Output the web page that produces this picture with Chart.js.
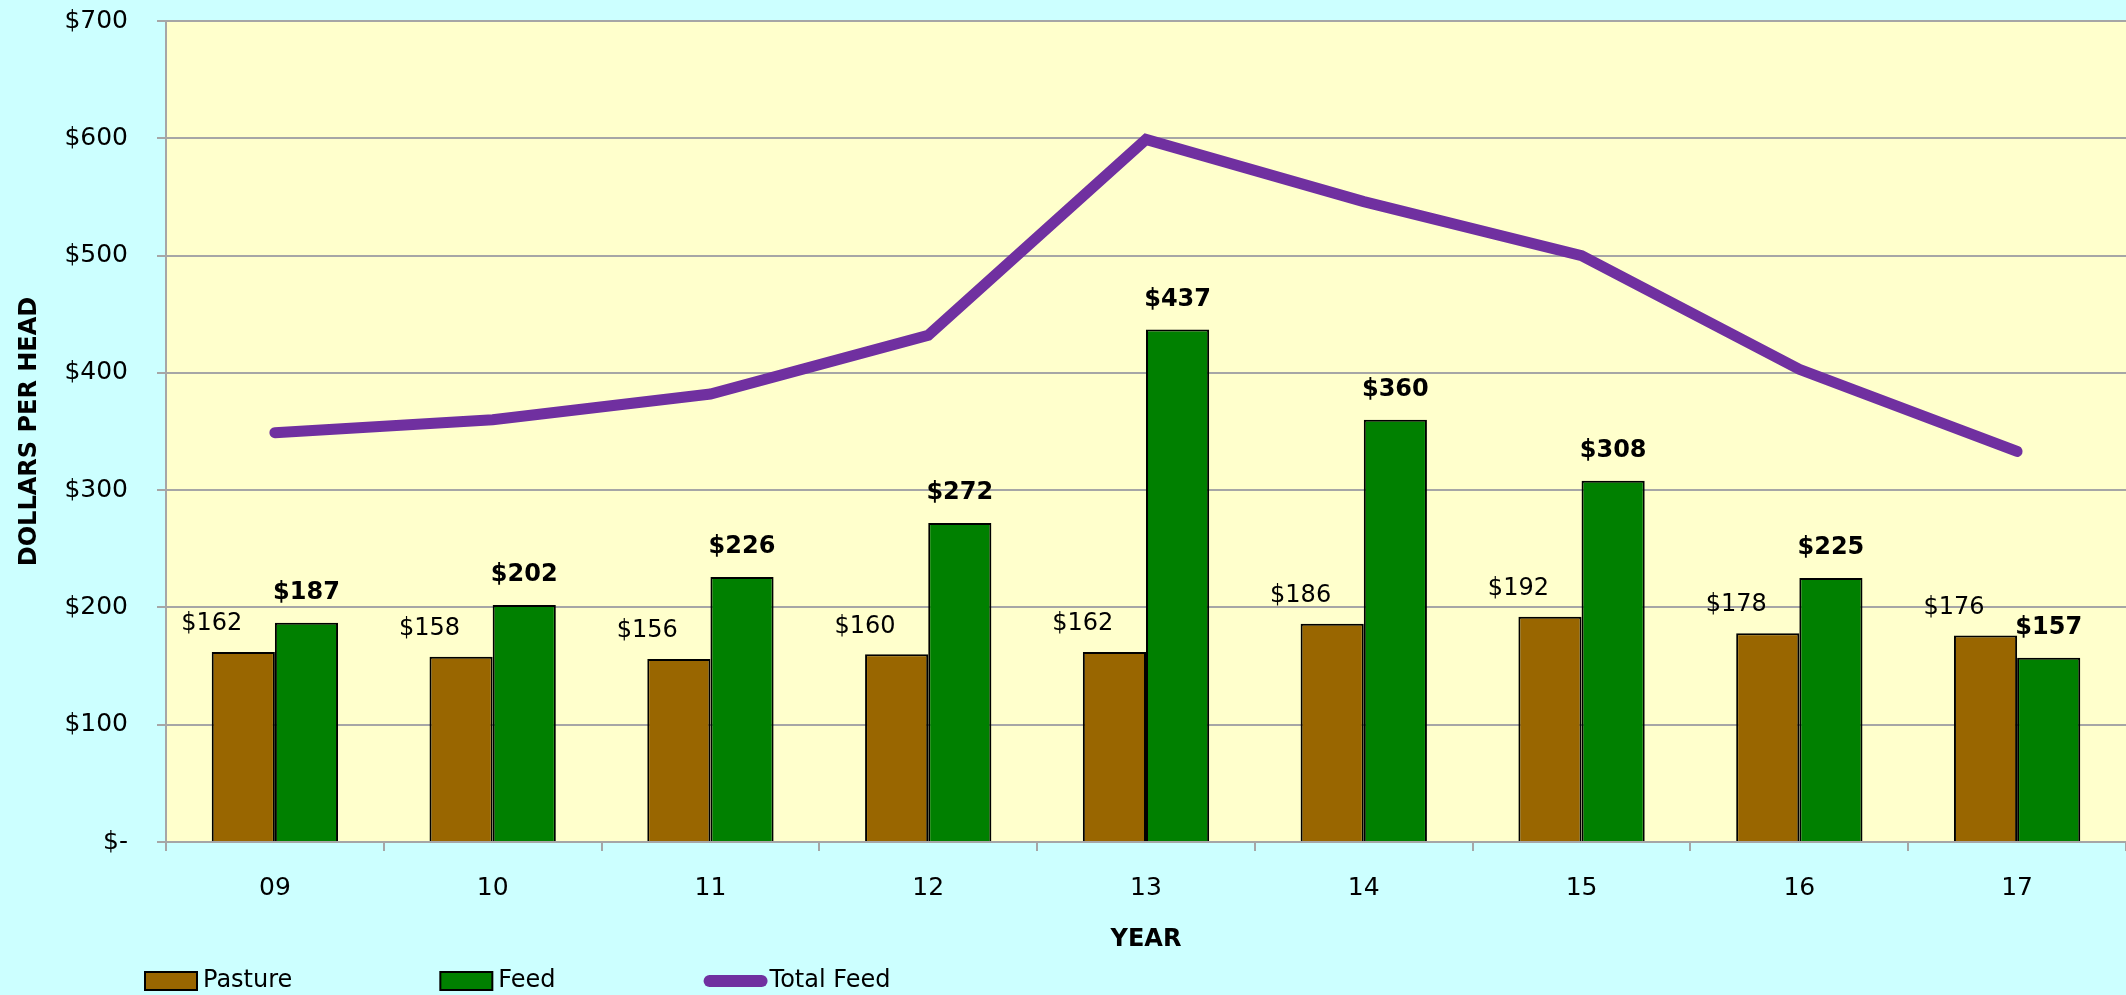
<!DOCTYPE html>
<html>
<head>
<meta charset="utf-8">
<title>Pasture and Feed Cost per Head</title>
<script src="https://cdn.jsdelivr.net/npm/chart.js@4.4.1/dist/chart.umd.min.js"></script>
<style>
  html, body { margin: 0; padding: 0; background: #ccffff; }
  #wrap { width: 2126px; height: 995px; position: relative; }
</style>
</head>
<body>
<div id="wrap"><canvas id="cost-chart"></canvas></div>
<script>
// values
const years = ['09', '10', '11', '12', '13', '14', '15', '16', '17'];
const pasture = [162, 158, 156, 160, 162, 186, 192, 178, 176];
const feed = [187, 202, 226, 272, 437, 360, 308, 225, 157];
const totalFeed = [349, 360, 382, 432, 599, 546, 500, 403, 333];
const yTickValues = [0, 100, 200, 300, 400, 500, 600, 700];

const FONT = '"Comic Sans MS", "DejaVu Sans", sans-serif';
const BROWN = '#996600';
const GREEN = '#008000';
const PURPLE = '#7030a0';
const GRID = '#a6a6a6';

const money = v => v === 0 ? '$-' : '$' + v;

// yellow plot area
const plotBackground = {
    id: 'plotBackground',
    beforeDraw(chart) {
        const {ctx, chartArea} = chart;
        ctx.save();
        ctx.fillStyle = '#ffffcc';
        ctx.fillRect(chartArea.left, chartArea.top, chartArea.right - chartArea.left, chartArea.bottom - chartArea.top);
        ctx.restore();
    }
};

// $ labels over the bars
const valueLabels = {
    id: 'valueLabels',
    afterDatasetsDraw(chart) {
        const ctx = chart.ctx;
        ctx.save();
        ctx.fillStyle = '#000';
        ctx.textAlign = 'center';
        ctx.textBaseline = 'middle';
        chart.getDatasetMeta(0).data.forEach((el, i) => {
            const p = el.getProps(['x', 'y', 'width'], true);
            ctx.font = '24px ' + FONT;
            ctx.fillText(money(pasture[i]), p.x - p.width / 2, p.y - 28);
        });
        chart.getDatasetMeta(1).data.forEach((el, i) => {
            const p = el.getProps(['x', 'y', 'width'], true);
            ctx.font = 'bold 24px ' + FONT;
            ctx.fillText(money(feed[i]), p.x, p.y - 30);
        });
        ctx.restore();
    }
};

// excel style legend along the bottom left
const bottomLegend = {
    id: 'bottomLegend',
    afterDraw(chart) {
        const ctx = chart.ctx;
        const cy = 981;
        let x = 145;
        ctx.save();
        ctx.font = '24px ' + FONT;
        ctx.textBaseline = 'middle';
        ctx.textAlign = 'left';
        chart.data.datasets.forEach(ds => {
            if (ds.type === 'line') {
                ctx.strokeStyle = ds.borderColor;
                ctx.lineWidth = 12;
                ctx.lineCap = 'round';
                ctx.beginPath();
                ctx.moveTo(x + 6, cy);
                ctx.lineTo(x + 58, cy);
                ctx.stroke();
            } else {
                ctx.fillStyle = ds.backgroundColor;
                ctx.fillRect(x, cy - 9, 52, 18);
                ctx.strokeStyle = '#000';
                ctx.lineWidth = 2;
                ctx.strokeRect(x, cy - 9, 52, 18);
            }
            const tx = x + (ds.type === 'line' ? 66 : 58);
            ctx.fillStyle = '#000';
            ctx.fillText(ds.label, tx, cy);
            x = tx + ctx.measureText(ds.label).width + 148;
        });
        ctx.restore();
    }
};

new Chart(document.getElementById('cost-chart'), {
    data: {
        labels: years,
        datasets: [
            {
                type: 'bar',
                label: 'Pasture',
                data: pasture,
                backgroundColor: BROWN,
                borderColor: '#000',
                borderWidth: 2,
                order: 1
            },
            {
                type: 'bar',
                label: 'Feed',
                data: feed,
                backgroundColor: GREEN,
                borderColor: '#000',
                borderWidth: 2,
                order: 1
            },
            {
                type: 'line',
                label: 'Total Feed',
                data: totalFeed,
                borderColor: PURPLE,
                backgroundColor: PURPLE,
                borderWidth: 11,
                borderCapStyle: 'round',
                borderJoinStyle: 'miter',
                pointRadius: 0,
                tension: 0,
                fill: false,
                order: 0
            }
        ]
    },
    options: {
        responsive: true,
        maintainAspectRatio: false,
        animation: false,
        layout: { padding: { top: 21, bottom: 40, left: 0, right: 0 } },
        datasets: {
            bar: { categoryPercentage: 0.58, barPercentage: 1.0 }
        },
        plugins: {
            legend: { display: false },
            tooltip: { enabled: false }
        },
        scales: {
            x: {
                afterFit: s => { s.height = 113; },
                grid: { drawOnChartArea: false, color: GRID, lineWidth: 2, tickLength: 9 },
                border: { color: GRID, width: 2 },
                ticks: { padding: 22, color: '#000', font: { family: FONT, size: 25 } },
                title: {
                    display: true,
                    text: 'YEAR',
                    color: '#000',
                    font: { family: FONT, size: 24, weight: 'bold' },
                    padding: { top: 0, bottom: 1 }
                }
            },
            y: {
                min: 0,
                max: 700,
                afterBuildTicks: s => { s.ticks = yTickValues.map(v => ({ value: v })); },
                afterFit: s => { s.width = 166; },
                // long tick slot for the label gap, only the 9px next to the axis is drawn
                grid: { color: GRID, lineWidth: 2, tickLength: 38, tickBorderDash: [0, 29, 9, 100] },
                border: { color: GRID, width: 2 },
                ticks: { padding: 0, color: '#000', font: { family: FONT, size: 25 }, callback: v => money(v) },
                title: {
                    display: true,
                    text: 'DOLLARS PER HEAD',
                    color: '#000',
                    font: { family: FONT, size: 24, weight: 'bold' },
                    padding: { top: 15, bottom: 0 }
                }
            }
        }
    },
    plugins: [plotBackground, valueLabels, bottomLegend]
});
</script>
</body>
</html>
